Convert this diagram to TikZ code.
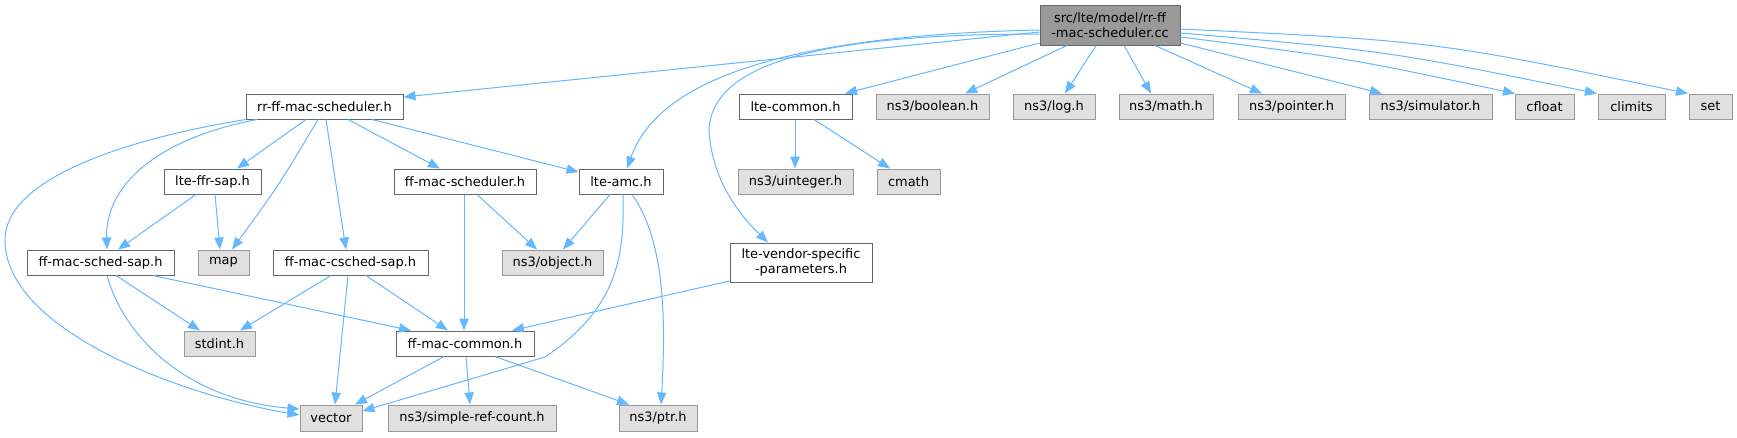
\documentclass[tikz,border=0pt]{standalone}
\usepackage{fontspec}
\setmainfont{DejaVu Sans}
\usetikzlibrary{arrows.meta}
\definecolor{edgec}{HTML}{63B8FF}
\definecolor{refborder}{HTML}{666666}
\definecolor{grayborder}{HTML}{999999}
\definecolor{grayfill}{HTML}{E0E0E0}
\definecolor{mainfill}{HTML}{999999}
\newcommand\bx[7]{\node[#2, minimum width={(#5-#3)*0.75pt}, minimum height={(#6-#4)*0.75pt}] (#1) at ({(#3+#5)/2},{(#4+#6)/2}) {#7};}
\begin{document}
\begin{tikzpicture}[x=0.75pt,y=-0.75pt,
  base/.style={draw, line width=0.75pt, inner sep=0pt, align=center, font=\fontsize{9.7}{11.25}\selectfont},
  wbox/.style={base, draw=refborder, fill=white},
  gbox/.style={base, draw=grayborder, fill=grayfill},
  mbox/.style={base, draw=refborder, fill=mainfill},
  edge/.style={draw=edgec, line width=0.75pt, -{Triangle[length=9pt,width=7pt]}}]
\useasboundingbox (0,0) rectangle (1737,437);
\fill[white] (0,0) rectangle (1737,437);

\bx{M}{mbox}{1040}{5}{1180}{45}{src/lte/model/rr-ff\\-mac-scheduler.cc}
\bx{rr}{wbox}{246}{94}{403}{119}{rr-ff-mac-scheduler.h}
\bx{lc}{wbox}{739}{94}{852}{119}{lte-common.h}
\bx{bool}{gbox}{876}{94}{989}{119}{ns3/boolean.h}
\bx{log}{gbox}{1013}{94}{1095}{119}{ns3/log.h}
\bx{math}{gbox}{1119}{94}{1213}{119}{ns3/math.h}
\bx{pointer}{gbox}{1238}{94}{1345}{119}{ns3/pointer.h}
\bx{sim}{gbox}{1369}{94}{1492}{119}{ns3/simulator.h}
\bx{cfloat}{gbox}{1515}{94}{1574}{119}{cfloat}
\bx{climits}{gbox}{1598}{94}{1665}{119}{climits}
\bx{set}{gbox}{1689}{94}{1732}{119}{set}
\bx{ffr}{wbox}{164}{169}{261}{194}{lte-ffr-sap.h}
\bx{ffs}{wbox}{394}{169}{536}{194}{ff-mac-scheduler.h}
\bx{amc}{wbox}{579}{169}{663}{194}{lte-amc.h}
\bx{uint}{gbox}{738}{169}{853}{194}{ns3/uinteger.h}
\bx{cmath}{gbox}{877}{169}{940}{194}{cmath}
\bx{sap}{wbox}{27}{250}{174}{275}{ff-mac-sched-sap.h}
\bx{map}{gbox}{198}{250}{249}{275}{map}
\bx{csched}{wbox}{273}{250}{428}{275}{ff-mac-csched-sap.h}
\bx{object}{gbox}{502}{250}{603}{275}{ns3/object.h}
\bx{vendor}{wbox}{730}{243}{872}{282}{lte-vendor-specific\\-parameters.h}
\bx{stdint}{gbox}{184}{331}{255}{356}{stdint.h}
\bx{common}{wbox}{396}{331}{534}{356}{ff-mac-common.h}
\bx{vector}{gbox}{300}{405}{362}{431}{vector}
\bx{src}{gbox}{388}{405}{556}{431}{ns3/simple-ref-count.h}
\bx{ptr}{gbox}{619}{405}{697}{431}{ns3/ptr.h}

% from main
\draw[edge] (M.west |- 0,32) -- (rr.east |- 0,97);
\draw[edge] (M.west |- 0,30) .. controls (800,35) and (660,75) .. (amc.north -| 627,0);
\draw[edge] (M.west |- 0,34) .. controls (850,34) and (712,55) .. (709,130) .. controls (712,185) and (745,220) .. (vendor.north -| 768,0);
\draw[edge] (M.west |- 0,43) -- (lc.north -| 845,0);
\draw[edge] (M.south -| 1067,0) -- (bool.north -| 965,0);
\draw[edge] (M.south -| 1096,0) -- (log.north -| 1065,0);
\draw[edge] (M.south -| 1124,0) -- (math.north -| 1151,0);
\draw[edge] (M.south -| 1155,0) -- (pointer.north -| 1262,0);
\draw[edge] (M.east |- 0,43) -- (sim.north -| 1382,0);
\draw[edge] (M.east |- 0,37) .. controls (1347,58) .. (cfloat.north -| 1515,0);
\draw[edge] (M.east |- 0,33) .. controls (1388,51) .. (climits.north -| 1597,0);
\draw[edge] (M.east |- 0,29) .. controls (1434,41) .. (set.north -| 1688,0);

% from rr-ff-mac-scheduler.h
\draw[edge] (rr.south west) .. controls (120,140) and (5,180) .. (5,240) .. controls (5,330) and (180,395) .. (vector.west |- 0,415);
\draw[edge] (rr.south -| 257,0) .. controls (150,140) and (105,190) .. (sap.north -| 107,0);
\draw[edge] (rr.south -| 306,0) -- (ffr.north -| 237,0);
\draw[edge] (rr.south -| 318,0) .. controls (279,185) .. (map.north -| 232,0);
\draw[edge] (rr.south -| 326,0) -- (csched.north -| 346,0);
\draw[edge] (rr.south -| 348,0) -- (ffs.north -| 440,0);
\draw[edge] (rr.south -| 372,0) -- (amc.west |- 0,172);

% lte-ffr-sap.h
\draw[edge] (ffr.south -| 196,0) -- (sap.north -| 118,0);
\draw[edge] (ffr.south -| 215,0) -- (map.north -| 220,0);

% ff-mac-scheduler.h
\draw[edge] (ffs.south -| 464,0) -- (common.north -| 464,0);
\draw[edge] (ffs.south -| 477,0) -- (object.north -| 537,0);

% lte-amc.h
\draw[edge] (amc.south -| 610,0) -- (object.north -| 563,0);
\draw[edge] (amc.south -| 623,0) .. controls (625,260) and (615,310) .. (545,357) -- (vector.east |- 0,411);
\draw[edge] (amc.south -| 632,0) .. controls (665,240) and (666,320) .. (ptr.north -| 661,0);

% lte-vendor-specific-parameters.h
\draw[edge] (vendor.west |- 0,281) -- (common.north -| 512,0);

% ff-mac-sched-sap.h
\draw[edge] (sap.south -| 116,0) -- (stdint.north -| 200,0);
\draw[edge] (sap.south -| 153,0) -- (common.north -| 411,0);
\draw[edge] (sap.south -| 107,0) .. controls (125,340) and (190,400) .. (vector.west |- 0,409);

% ff-mac-csched-sap.h
\draw[edge] (csched.south -| 331,0) -- (stdint.north -| 240,0);
\draw[edge] (csched.south -| 348,0) -- (vector.north -| 335,0);
\draw[edge] (csched.south -| 366,0) -- (common.north -| 448,0);

% ff-mac-common.h
\draw[edge] (common.south -| 444,0) -- (vector.north -| 355,0);
\draw[edge] (common.south -| 466,0) -- (src.north -| 470,0);
\draw[edge] (common.south -| 495,0) -- (ptr.north -| 629,0);

% lte-common.h
\draw[edge] (lc.south -| 795,0) -- (uint.north -| 795,0);
\draw[edge] (lc.south -| 814,0) -- (cmath.north -| 890,0);
\end{tikzpicture}
\end{document}
